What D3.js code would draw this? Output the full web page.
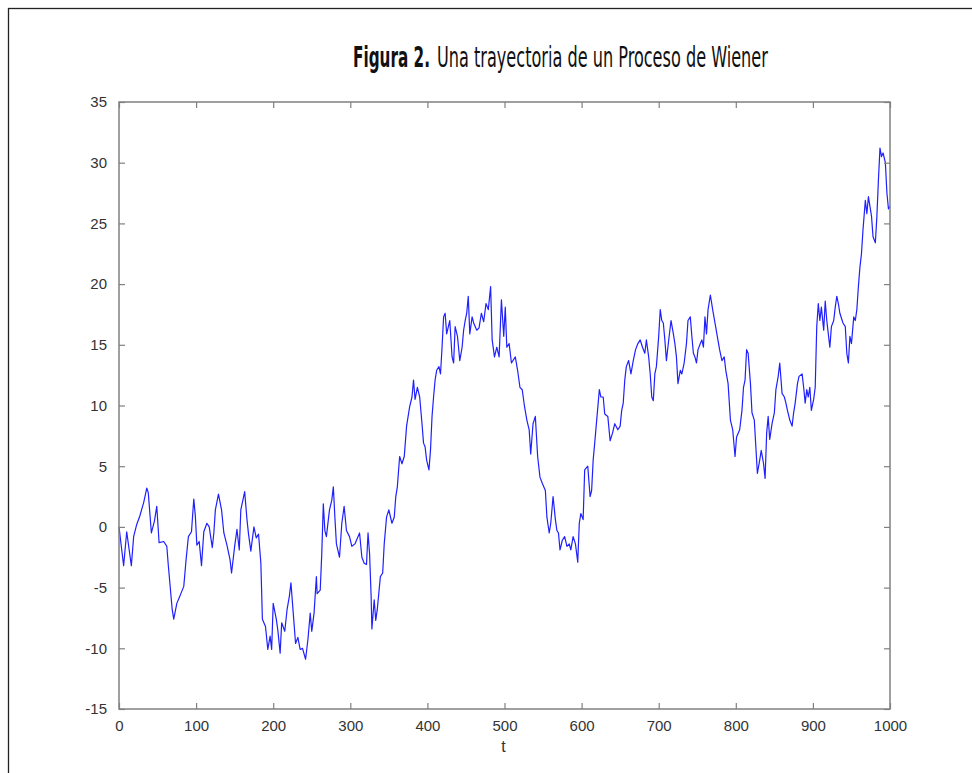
<!DOCTYPE html>
<html>
<head>
<meta charset="utf-8">
<script src="https://cdn.jsdelivr.net/npm/d3@7"></script>
<style>
  html, body { margin: 0; padding: 0; background: #fff; }
  svg { display: block; }
</style>
</head>
<body>
<div id="chart"></div>
<script>
// time steps
const tValues = [
  0, 6, 10, 16, 19, 23, 27, 32, 36, 38, 42, 46, 49, 52, 58, 62, 64, 69, 71, 75,
  79, 84, 87, 90, 94, 97, 99, 101, 104, 107, 110, 114, 117, 121, 123, 125, 129, 133, 136, 140,
  144, 146, 150, 153, 156, 158, 163, 166, 168, 171, 175, 178, 181, 184, 186, 190, 193, 196, 198, 200,
  204, 206, 209, 211, 215, 218, 221, 223, 226, 229, 232, 235, 238, 242, 245, 248, 250, 253, 256, 257,
  261, 263, 265, 267, 269, 273, 276, 278, 280, 282, 286, 289, 292, 295, 299, 302, 306, 312, 315, 318,
  321, 323, 325, 327, 328, 331, 333, 335, 339, 342, 344, 347, 350, 354, 357, 359, 361, 364, 367, 370,
  373, 377, 380, 382, 384, 387, 390, 393, 395, 397, 399, 402, 404, 406, 408, 410, 412, 415, 417, 419,
  421, 423, 425, 429, 432, 434, 436, 439, 442, 445, 447, 449, 451, 453, 455, 458, 460, 464, 467, 470,
  473, 476, 479, 482, 484, 487, 490, 493, 496, 499, 501, 503, 506, 509, 514, 517, 520, 523, 526, 529,
  532, 534, 537, 540, 543, 546, 549, 553, 555, 558, 560, 563, 566, 568, 570, 572, 575, 578, 581, 584,
  586, 589, 592, 595, 597, 599, 602, 604, 608, 611, 613, 615, 617, 620, 623, 625, 628, 630, 634, 637,
  640, 643, 647, 650, 652, 654, 656, 658, 661, 664, 667, 670, 673, 676, 679, 682, 684, 687, 689, 691,
  693, 695, 697, 700, 702, 704, 706, 708, 710, 713, 716, 719, 721, 723, 725, 728, 730, 733, 736, 738,
  741, 743, 745, 747, 749, 751, 754, 756, 758, 760, 762, 764, 767, 770, 773, 776, 779, 782, 785, 787,
  790, 793, 796, 799, 801, 805, 808, 810, 812, 814, 816, 819, 821, 824, 826, 828, 831, 833, 836, 838,
  840, 842, 844, 847, 850, 852, 855, 857, 860, 863, 865, 867, 870, 873, 875, 877, 880, 882, 886, 888,
  890, 892, 894, 896, 898, 901, 903, 905, 907, 909, 911, 914, 916, 918, 920, 922, 924, 927, 929, 931,
  933, 935, 939, 942, 944, 946, 948, 950, 953, 955, 957, 959, 961, 963, 965, 968, 970, 972, 974, 976,
  978, 981, 983, 985, 987, 989, 991, 994, 996, 998, 1000
]

const wValues = [
  0, -3.2, -0.4, -3.2, -0.8, 0.2, 0.9, 2.0, 3.2, 2.8, -0.5, 0.5, 1.7, -1.3, -1.2, -1.6, -3.2, -6.8, -7.6, -6.3,
  -5.7, -4.9, -2.7, -0.8, -0.4, 2.3, 0.9, -1.5, -1.2, -3.2, -0.4, 0.3, 0, -1.7, -0.5, 1.4, 2.7, 1.4, -0.5, -1.5,
  -2.7, -3.8, -1.6, -0.2, -1.9, 1.4, 2.9, 0.6, -0.6, -2.0, 0, -0.9, -0.6, -3.0, -7.6, -8.2, -10.1, -9.0, -10.1, -6.3,
  -7.6, -8.5, -10.4, -7.9, -8.6, -6.8, -5.7, -4.6, -7.1, -9.6, -9.1, -10.1, -10.0, -10.9, -9.3, -7.1, -8.6, -7.1, -4.1, -5.5,
  -5.2, -2.2, 1.9, -0.3, -0.8, 1.4, 2.2, 3.3, 0.8, -1.4, -2.5, 0.3, 1.7, -0.3, -0.8, -1.6, -1.4, -0.5, -2.5, -3.0,
  -3.1, -0.5, -2.2, -5.7, -8.4, -6.0, -7.7, -6.8, -4.1, -3.8, -1.4, 0.8, 1.4, 0.3, 0.8, 2.5, 3.3, 5.8, 5.2, 5.8,
  8.3, 9.9, 10.7, 12.1, 10.5, 11.5, 10.7, 8.5, 6.9, 6.6, 5.5, 4.7, 6.3, 9.1, 10.7, 12.1, 12.9, 13.2, 12.6, 14.8,
  17.3, 17.6, 15.9, 17.0, 14.0, 13.5, 16.5, 15.7, 13.7, 14.8, 16.2, 17.0, 17.6, 19.0, 15.9, 17.3, 16.8, 16.2, 16.4, 17.6,
  16.9, 18.4, 17.9, 19.8, 15.4, 14.0, 14.8, 14.0, 18.7, 15.7, 18.1, 14.8, 15.1, 13.5, 14.0, 12.9, 11.5, 11.3, 9.9, 8.8,
  8.0, 6.0, 8.5, 9.1, 5.8, 4.1, 3.6, 3.0, 0.8, -0.5, 0.3, 2.5, 0.6, -0.3, -0.5, -1.9, -1.1, -0.8, -1.6, -1.4,
  -1.9, -0.8, -1.4, -2.9, 0.3, 1.1, 0.6, 4.7, 5.0, 2.5, 3.0, 5.5, 6.9, 9.1, 11.3, 10.7, 10.7, 9.3, 9.1, 7.1,
  7.7, 8.5, 8.0, 8.3, 9.6, 10.2, 12.1, 13.2, 13.7, 12.6, 13.7, 14.6, 15.1, 15.4, 14.8, 14.3, 15.4, 14.0, 12.6, 10.7,
  10.4, 12.6, 13.2, 15.7, 17.9, 17.0, 16.8, 15.4, 13.7, 15.4, 17.0, 15.9, 15.1, 14.0, 11.8, 12.9, 12.6, 13.5, 15.1, 17.0,
  17.3, 15.7, 14.3, 14.0, 13.5, 14.6, 15.1, 15.4, 14.8, 17.3, 15.9, 17.9, 19.1, 17.9, 16.8, 15.7, 14.6, 13.7, 14.0, 12.9,
  11.8, 8.8, 8.0, 5.8, 7.4, 8.0, 9.6, 11.5, 12.1, 14.6, 14.3, 11.8, 9.4, 8.8, 6.6, 4.4, 5.5, 6.3, 5.2, 4.0,
  7.7, 9.1, 7.2, 8.5, 9.4, 11.3, 12.4, 13.5, 11.0, 10.7, 10.2, 9.6, 8.8, 8.3, 9.4, 10.2, 11.8, 12.4, 12.6, 11.5,
  10.2, 11.3, 10.7, 11.5, 9.6, 10.5, 11.5, 16.5, 18.4, 17.0, 18.1, 16.2, 18.6, 17.0, 15.9, 14.8, 16.5, 17.0, 18.1, 19.0,
  18.4, 17.6, 16.8, 16.5, 14.3, 13.5, 15.7, 15.1, 17.3, 17.0, 17.9, 19.8, 21.4, 22.5, 24.5, 26.9, 25.8, 27.2, 26.4, 25.6,
  23.9, 23.4, 25.6, 28.6, 31.2, 30.5, 30.8, 30.0, 27.5, 26.2, 26.4
]

const xTicks = d3.range(0, 1001, 100)
const yTicks = d3.range(-15, 36, 5)

const WIDTH = 972
const HEIGHT = 773
const PLOT = { left: 119, right: 890, top: 102, bottom: 709 }
const TICK_LEN = 6
const AXIS_COLOR = '#808080'
const LABEL_FONT = 'Arial, "Liberation Sans", Helvetica, sans-serif'
const TITLE_FONT = '"Liberation Sans Narrow", "DejaVu Sans Condensed", "Roboto Condensed", Arial, sans-serif'

const svg = d3.select('#chart')
  .append('svg')
  .attr('width', WIDTH)
  .attr('height', HEIGHT)

// outer frame of the figure (runs off the right and bottom edge)
svg.append('rect')
  .attr('x', 8.5)
  .attr('y', 8.5)
  .attr('width', 1000)
  .attr('height', 1000)
  .attr('fill', 'none')
  .attr('stroke', '#222')
  .attr('stroke-width', 1.3)

// title pieces are squeezed with a transform so their real boxes match what is drawn
function squeezedText(str, left, width, bold) {
  const t = svg.append('text')
    .attr('font-family', TITLE_FONT)
    .attr('font-size', 28)
    .attr('font-weight', bold ? 'bold' : 'normal')
    .attr('fill', '#111')
    .text(str)
  const natural = t.node().getComputedTextLength()
  t.attr('transform', `translate(${left},67) scale(${width / natural},1)`)
  return t
}

squeezedText('Figura 2.', 353, 77, true)
squeezedText('Una trayectoria de un Proceso de Wiener', 437, 331, false)

const x = d3.scaleLinear().domain([0, 1000]).range([PLOT.left, PLOT.right])
const y = d3.scaleLinear().domain([-15, 35]).range([PLOT.bottom, PLOT.top])

// the path itself
const line = d3.line()
  .x((d, i) => x(tValues[i]))
  .y((d) => y(d))

svg.append('path')
  .datum(wValues)
  .attr('d', line)
  .attr('fill', 'none')
  .attr('stroke', '#2020ff')
  .attr('stroke-width', 1.2)
  .attr('stroke-linejoin', 'round')

// axes, matlab style: ticks pointing inwards on all four sides
const styleAxis = (g) => {
  g.select('.domain').remove()
  g.selectAll('.tick line').attr('stroke', AXIS_COLOR).attr('stroke-width', 1.2)
  g.selectAll('.tick text')
    .attr('font-family', LABEL_FONT)
    .attr('font-size', 15)
    .attr('fill', '#333')
}

const plain = (d) => String(d) // keep the ascii hyphen for negatives

svg.append('g')
  .attr('transform', `translate(0,${PLOT.bottom})`)
  .call(d3.axisBottom(x).tickValues(xTicks).tickSize(-TICK_LEN).tickPadding(11).tickFormat(plain))
  .call(styleAxis)

svg.append('g')
  .attr('transform', `translate(0,${PLOT.top})`)
  .call(d3.axisTop(x).tickValues(xTicks).tickSize(-TICK_LEN).tickFormat(''))
  .call(styleAxis)

svg.append('g')
  .attr('transform', `translate(${PLOT.left},0)`)
  .call(d3.axisLeft(y).tickValues(yTicks).tickSize(-TICK_LEN).tickPadding(12).tickFormat(plain))
  .call(styleAxis)

svg.append('g')
  .attr('transform', `translate(${PLOT.right},0)`)
  .call(d3.axisRight(y).tickValues(yTicks).tickSize(-TICK_LEN).tickFormat(''))
  .call(styleAxis)

// box around the plot
svg.append('rect')
  .attr('x', PLOT.left)
  .attr('y', PLOT.top)
  .attr('width', PLOT.right - PLOT.left)
  .attr('height', PLOT.bottom - PLOT.top)
  .attr('fill', 'none')
  .attr('stroke', AXIS_COLOR)
  .attr('stroke-width', 1.5)

svg.append('text')
  .attr('x', x(500) - 1)
  .attr('y', 752)
  .attr('text-anchor', 'middle')
  .attr('font-family', LABEL_FONT)
  .attr('font-size', 16)
  .attr('fill', '#333')
  .text('t')
</script>
</body>
</html>
